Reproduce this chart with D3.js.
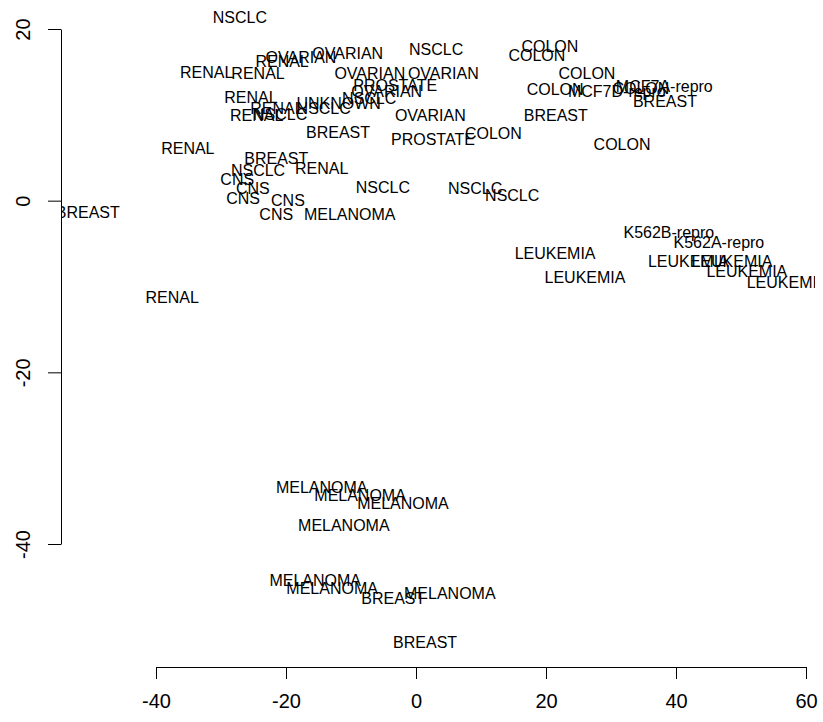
<!DOCTYPE html>
<html>
<head>
<meta charset="utf-8">
<script src="https://cdn.jsdelivr.net/npm/d3@7"></script>
<style>
body { margin: 0; background: white; }
.lab { font-family: "Liberation Sans", Arial, sans-serif; font-size: 16px; fill: black; }
.tick text { font-family: "Liberation Sans", Arial, sans-serif; font-size: 20px; fill: black; }
</style>
</head>
<body>
<svg id="pcaSVG" width="823" height="722"></svg>
<script>
// cell line labels and first two principal component scores
var labels = ['NSCLC','OVARIAN','RENAL','OVARIAN','NSCLC','RENAL','RENAL','OVARIAN','OVARIAN','PROSTATE',
	'OVARIAN','RENAL','UNKNOWN','NSCLC','RENAL','NSCLC','RENAL','NSCLC','OVARIAN','BREAST',
	'PROSTATE','COLON','RENAL','BREAST','RENAL','NSCLC','CNS','CNS','CNS','CNS',
	'CNS','MELANOMA','NSCLC','NSCLC','NSCLC','COLON','COLON','COLON','COLON','MCF7D-repro',
	'MCF7A-repro','COLON','BREAST','BREAST','COLON','K562B-repro','K562A-repro','LEUKEMIA','LEUKEMIA','LEUKEMIA',
	'LEUKEMIA','LEUKEMIA','LEUKEMIA','MELANOMA','MELANOMA','MELANOMA','MELANOMA','MELANOMA','MELANOMA','MELANOMA',
	'BREAST','BREAST','BREAST','RENAL']
var pc1 = [-27.1,-17.7,-20.6,-10.5,3.1,-32.2,-24.3,-7.1,4.2,-3.2,
	-4.5,-25.4,-11.9,-7.2,-21.4,-14.2,-24.5,-20.9,2.2,-12.0,
	2.6,11.9,-35.1,-21.5,-14.5,-24.3,-27.5,-25.1,-26.6,-19.7,
	-21.5,-10.2,-5.1,9.1,14.8,20.6,18.6,26.3,21.4,30.9,
	38.2,34.6,38.3,21.5,31.7,38.9,46.6,21.4,26.0,41.9,
	48.6,50.9,57.1,-14.5,-8.6,-2.0,-11.1,-15.5,-12.9,5.2,
	-3.5,1.4,-50.5,-37.5]
var pc2 = [21.4,16.7,16.2,17.2,17.7,15.0,14.8,14.9,14.9,13.5,
	12.8,12.0,11.4,11.9,10.8,10.8,10.0,10.1,10.0,8.0,
	7.1,7.9,6.1,4.9,3.8,3.6,2.5,1.4,0.3,0.1,
	-1.6,-1.6,1.6,1.5,0.6,18.0,16.9,14.8,13.0,12.7,
	13.3,13.1,11.6,9.9,6.6,-3.7,-4.8,-6.1,-8.9,-7.1,
	-7.1,-8.2,-9.5,-33.4,-34.3,-35.3,-37.8,-44.2,-45.2,-45.7,
	-46.3,-51.4,-1.4,-11.3]
var xTicks = [-40,-20,0,20,40,60]
var yTicks = [-40,-20,0,20]

var x = d3.scaleLinear().domain([-40,60]).range([156,806])
var y = d3.scaleLinear().domain([-40,20]).range([544,29])

var svg = d3.select('#pcaSVG')

// plot region clip, R clips text to it
svg.append('defs')
	.append('clipPath')
	.attr('id','plotClip')
	.append('rect')
	.attr('x',62)
	.attr('y',0)
	.attr('width',753)
	.attr('height',667)

svg.append('g')
	.attr('clip-path','url(#plotClip)')
	.selectAll('text')
	.data(labels)
	.enter()
	.append('text')
	.attr('class','lab')
	.attr('x', function(d,i) { return x(pc1[i]) })
	.attr('y', function(d,i) { return y(pc2[i]) })
	.attr('dy','0.36em')
	.attr('text-anchor','middle')
	.text(function(d) { return d })

// plain hyphen minus like R
var fmt = function(d) { return String(d) }

// bottom axis
var xAxis = svg.append('g')
	.attr('transform','translate(0,667)')
	.call(d3.axisBottom(x).tickValues(xTicks).tickSize(12).tickSizeOuter(0).tickPadding(0).tickFormat(fmt))
xAxis.selectAll('.tick text').attr('dy',null).attr('y',41)
xAxis.selectAll('path, line').attr('stroke','black')

// left axis, labels turned like R does
var yAxis = svg.append('g')
	.attr('transform','translate(61,0)')
	.call(d3.axisLeft(y).tickValues(yTicks).tickSize(13).tickSizeOuter(0).tickFormat(fmt))
yAxis.selectAll('.tick text')
	.attr('x',null)
	.attr('dy',null)
	.attr('text-anchor','middle')
	.attr('transform','translate(-31,0) rotate(-90)')
yAxis.selectAll('path, line').attr('stroke','black')
</script>
</body>
</html>
